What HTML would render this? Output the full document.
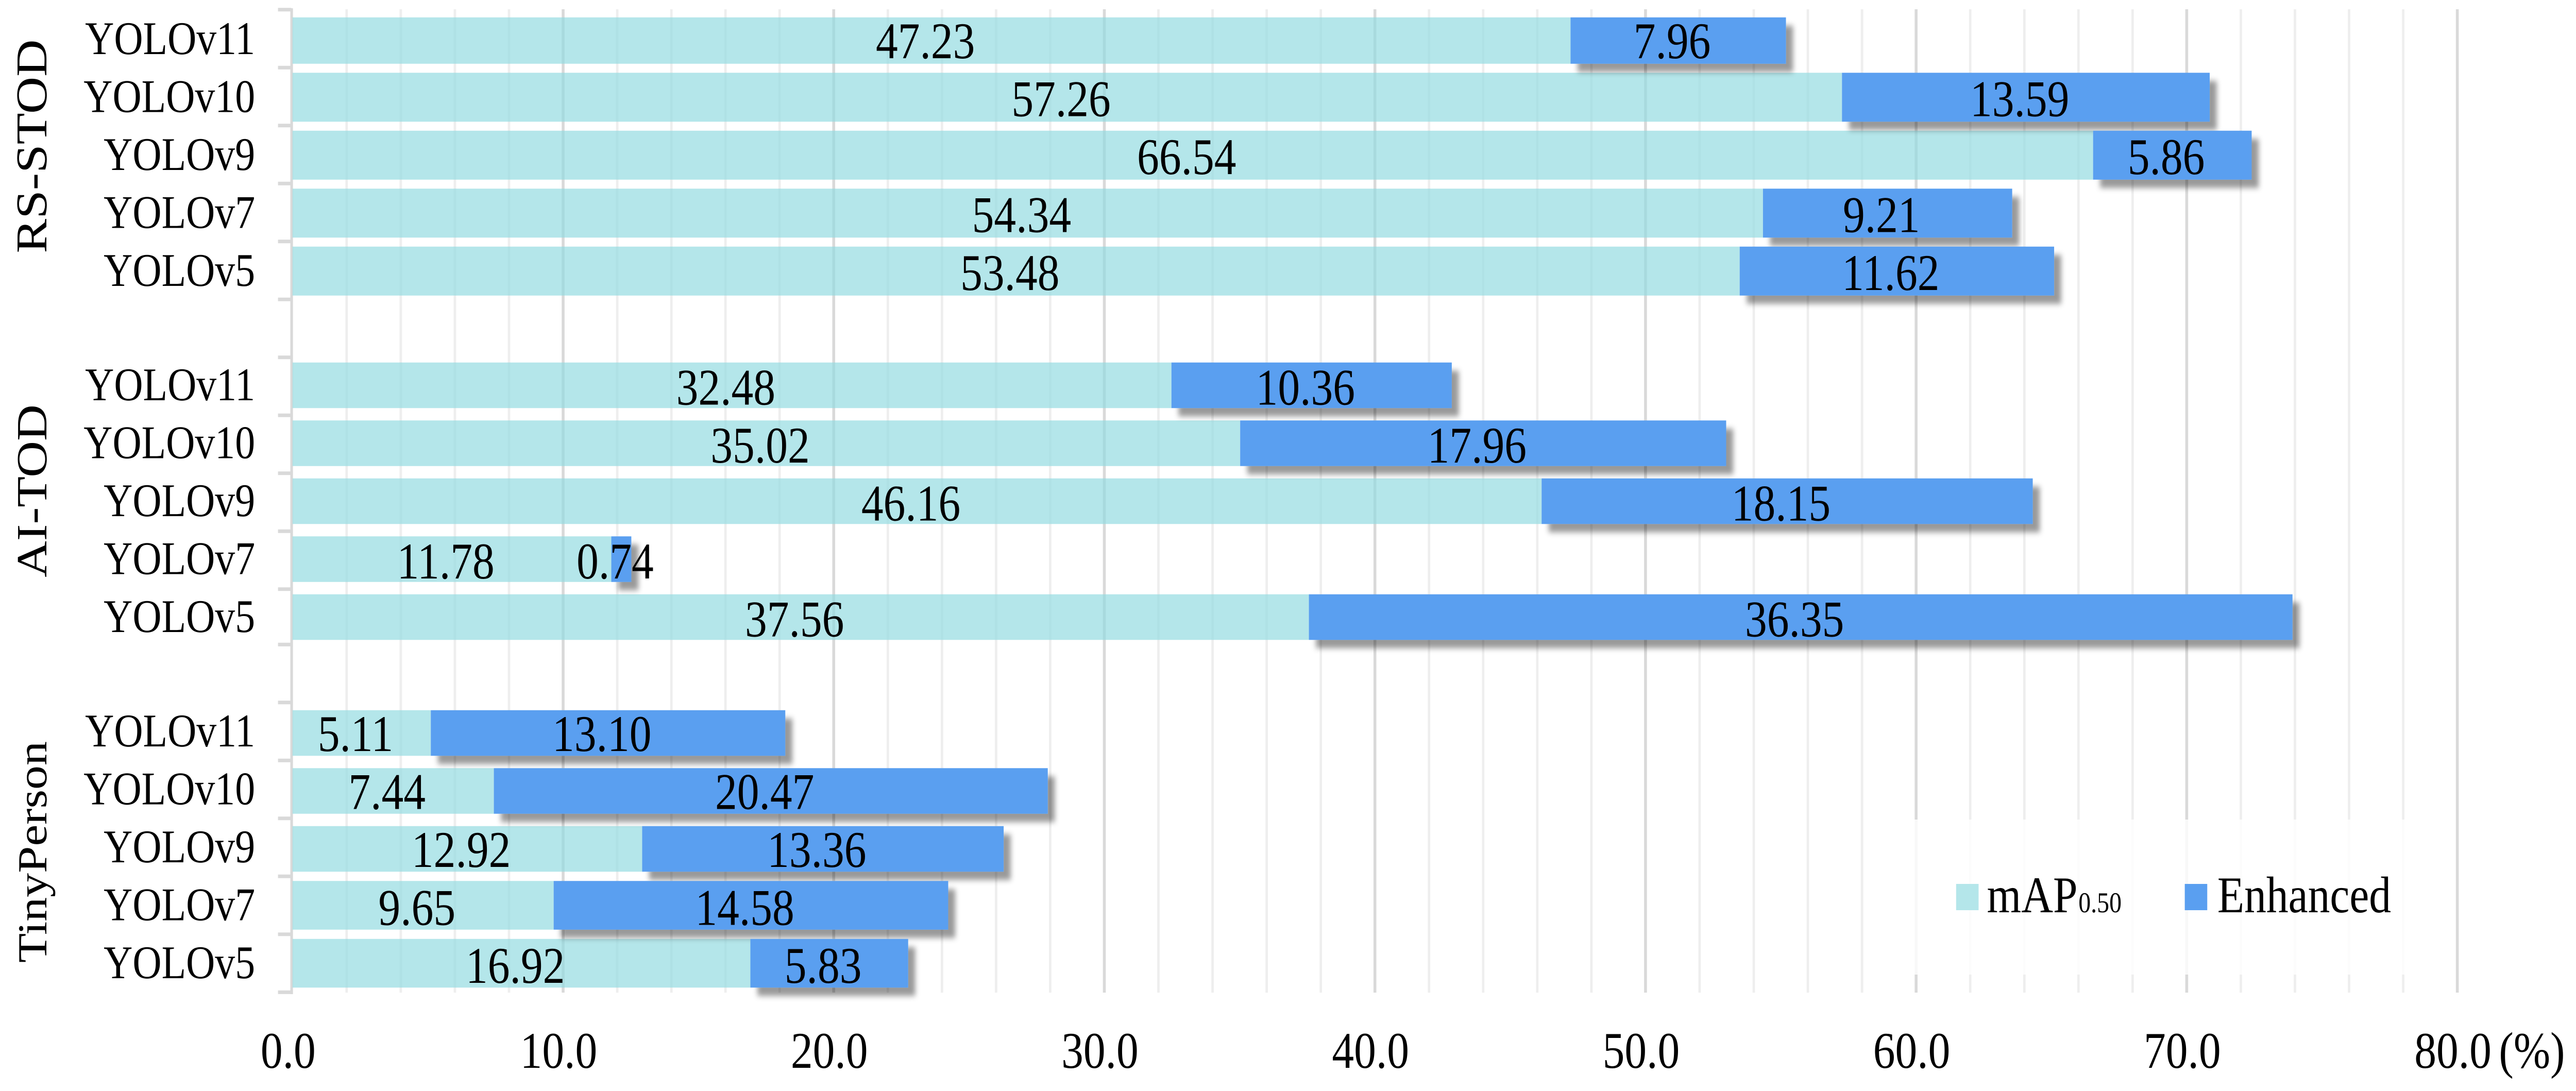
<!DOCTYPE html>
<html lang="en">
<head>
<meta charset="utf-8">
<title>mAP0.50 and Enhanced by YOLO model and dataset</title>
<style>
  html, body { margin: 0; padding: 0; background: #ffffff; width: 100%; height: 100%; overflow: hidden; }
  svg { display: block; width: 100vw; height: 100vh; }
  text { font-family: "Liberation Serif", "Times New Roman", serif; fill: #000000; text-rendering: geometricPrecision; }
</style>
</head>
<body>
<svg id="chart" xmlns="http://www.w3.org/2000/svg" viewBox="0 0 5847 2118" preserveAspectRatio="none">
  <defs>
    <filter id="bar-shadow" x="-30%" y="-30%" width="170%" height="170%" filterUnits="objectBoundingBox">
      <feDropShadow dx="16" dy="16" stdDeviation="5.5" flood-color="#000000" flood-opacity="0.4"/>
    </filter>
    <filter id="bar-shadow-small" x="-200%" y="-40%" width="600%" height="200%" filterUnits="objectBoundingBox">
      <feDropShadow dx="16" dy="16" stdDeviation="5.5" flood-color="#000000" flood-opacity="0.4"/>
    </filter>
  </defs>
  <rect x="0" y="0" width="5847" height="2118" fill="#ffffff"/>
  <g id="grid"></g>
  <g id="axis"></g>
  <g id="light-bars"></g>
  <g id="blue-bars"></g>
  <g id="x-labels"></g>
  <g id="cat-labels"></g>
  <g id="group-labels"></g>
  <g id="value-labels"></g>

  <rect x="4340" y="1591" width="1120" height="301" fill="#ffffff" fill-opacity="0.82"/>
  <g>
    <g>
      <rect x="4440" y="1716" width="51" height="51" fill="#b4e6ea"/>
      <text x="4510" y="1771" font-size="100">mAP<tspan font-size="56" dx="2">0.50</tspan></text>
    </g>
    <g>
      <rect x="4959" y="1716" width="51" height="51" fill="#5a9ff0"/>
      <text x="5033" y="1771" font-size="100">Enhanced</text>
    </g>
  </g>
  <text x="5672" y="2073" font-size="100">(%)</text>
</svg>

<script>
// ---- chart data ----
const datasets = ["RS-STOD", "AI-TOD", "TinyPerson"];
const models = ["YOLOv11", "YOLOv10", "YOLOv9", "YOLOv7", "YOLOv5"];
const mapRsStod = [47.23, 57.26, 66.54, 54.34, 53.48];
const enhancedRsStod = [7.96, 13.59, 5.86, 9.21, 11.62];
const mapAiTod = [32.48, 35.02, 46.16, 11.78, 37.56];
const enhancedAiTod = [10.36, 17.96, 18.15, 0.74, 36.35];
const mapTinyPerson = [5.11, 7.44, 12.92, 9.65, 16.92];
const enhancedTinyPerson = [13.10, 20.47, 13.36, 14.58, 5.83];
const xTickLabels = ["0.0", "10.0", "20.0", "30.0", "40.0", "50.0", "60.0", "70.0", "80.0"];
const mapSeries = [mapRsStod, mapAiTod, mapTinyPerson];
const enhancedSeries = [enhancedRsStod, enhancedAiTod, enhancedTinyPerson];

// ---- axis functions ----
const SVG_NS = "http://www.w3.org/2000/svg";
function xScale(v) { return 664 + 61.42 * v; }
function tickY(slot) { return 18.75 + 112.5 * slot - (slot >= 11 ? 5 : 0); }
function slotOf(group, row) { return group * 6 + row; }
function bandInset(group, row) {
  if (group === 0) return row === 0 ? 15 : 10;
  if (group === 1) return 10;
  return row <= 2 ? 15 : 9;
}
function bandHeight(group, row) {
  if (group === 0) return row === 0 ? 90 : 95;
  if (group === 1) return 88.5;
  return row <= 2 ? 88.5 : 94.5;
}
function catBaselineOffset(group) { return [86, 83, 85][group]; }
function valueBaselineOffset(group) { return [94, 91.5, 94][group]; }

function make(tag, parent) {
  const el = document.createElementNS(SVG_NS, tag);
  parent.appendChild(el);
  return el;
}
function setRect(el, x, y, w, h, fill) {
  el.setAttribute("x", x);
  el.setAttribute("y", y);
  el.setAttribute("width", w);
  el.setAttribute("height", h);
  el.setAttribute("fill", fill);
}

const gridG = document.getElementById("grid");
const axisG = document.getElementById("axis");
const lightG = document.getElementById("light-bars");
const blueG = document.getElementById("blue-bars");
const xLabelG = document.getElementById("x-labels");
const catG = document.getElementById("cat-labels");
const groupG = document.getElementById("group-labels");
const valueG = document.getElementById("value-labels");

// gridlines: minor every 2 units, major every 10 units
const gridTop = 18;
const gridBottom = 1927;
for (let v = 2; v <= 80; v += 2) {
  const isMajor = v % 10 === 0;
  const w = isMajor ? 6.5 : 5.5;
  const line = make("rect", gridG);
  
  
  setRect(line, xScale(v) - w / 2, gridTop, w, gridBottom - gridTop, isMajor ? "#d9d9d9" : "#eeeeee");
}

// category axis line and tick marks
const axisLine = make("rect", axisG);


setRect(axisLine, 659, 16, 6, 1914, "#d9d9d9");
for (let s = 0; s <= 17; s++) {
  const tick = make("rect", axisG);
  
  
  setRect(tick, 631, tickY(s) - 3.5, 30, 7, "#d9d9d9");
}

// bars and labels
datasets.forEach(function (dataset, g) {
  models.forEach(function (model, r) {
    const slot = slotOf(g, r);
    const top = tickY(slot) + bandInset(g, r);
    const h = bandHeight(g, r);
    const a = mapSeries[g][r];
    const b = enhancedSeries[g][r];

    const light = make("rect", lightG);
    
    
    setRect(light, xScale(0), top, xScale(a) - xScale(0), h, "#91dae0");
    light.setAttribute("fill-opacity", "0.68");

    const blue = make("rect", blueG);
    
    
    setRect(blue, xScale(a), top, xScale(a + b) - xScale(a), h, "#5a9ff0");
    blue.setAttribute("filter", b < 3 ? "url(#bar-shadow-small)" : "url(#bar-shadow)");

    const cat = make("text", catG);
    
    
    cat.setAttribute("x", 579);
    cat.setAttribute("y", tickY(slot) + catBaselineOffset(g));
    cat.setAttribute("font-size", 91);
    cat.setAttribute("text-anchor", "end");
    cat.textContent = model;

    const baseline = tickY(slot) + valueBaselineOffset(g);
    const labelA = make("text", valueG);
    
    
    labelA.setAttribute("x", (xScale(0) + xScale(a)) / 2 - 14);
    labelA.setAttribute("y", baseline);
    labelA.setAttribute("font-size", 100);
    labelA.setAttribute("text-anchor", "middle");
    labelA.textContent = a.toFixed(2);

    const labelB = make("text", valueG);
    
    
    labelB.setAttribute("x", (xScale(a) + xScale(a + b)) / 2 - 14);
    labelB.setAttribute("y", baseline);
    labelB.setAttribute("font-size", 100);
    labelB.setAttribute("text-anchor", "middle");
    labelB.textContent = b.toFixed(2);
  });

  const groupLabel = make("text", groupG);
  
  
  const cy = [284, 953, 1654][g];
  groupLabel.setAttribute("transform", "translate(105 " + cy + ") rotate(-90)");
  groupLabel.setAttribute("font-size", [100, 98, 94][g]);
  groupLabel.setAttribute("text-anchor", "middle");
  groupLabel.textContent = dataset;
});

// x-axis tick labels
xTickLabels.forEach(function (label) {
  const t = make("text", xLabelG);
  
  
  t.setAttribute("x", xScale(parseFloat(label)) - 10);
  t.setAttribute("y", 2073);
  t.setAttribute("font-size", 100);
  t.setAttribute("text-anchor", "middle");
  t.textContent = label;
});
</script>
</body>
</html>
